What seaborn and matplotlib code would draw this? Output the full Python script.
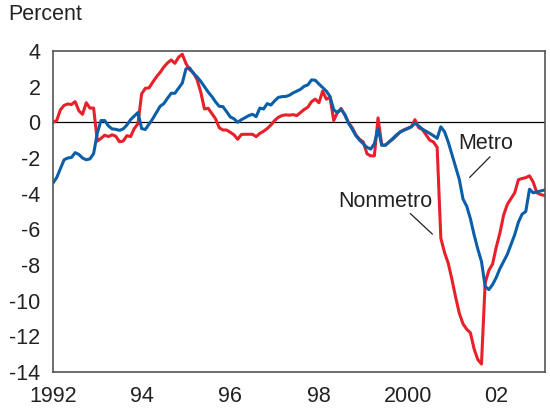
import numpy as np
import pandas as pd
import matplotlib
matplotlib.use("Agg")
import matplotlib.pyplot as plt
import seaborn as sns

# Monthly series, Jan 1992 - Feb 2003 (percent)
months = pd.date_range("1992-01-01", periods=134, freq="MS")

nonmetro = [
    0.0, 0.1, 0.7, 0.95, 1.03, 1.0, 1.16, 0.65, 0.45, 1.1, 0.8, 0.8,
    -1.05, -0.9, -0.72, -0.8, -0.7, -0.78, -1.09, -1.05, -0.75, -0.8, -0.35, -0.08,
    1.6, 1.91, 1.93, 2.25, 2.55, 2.8, 3.1, 3.33, 3.5, 3.31, 3.65, 3.82,
    3.3, 2.95, 2.78, 2.4, 1.7, 0.75, 0.79, 0.5, 0.2, -0.3, -0.43, -0.43,
    -0.56, -0.7, -0.95, -0.68, -0.67, -0.67, -0.67, -0.8, -0.62, -0.5, -0.35, -0.15,
    0.1, 0.28, 0.38, 0.42, 0.4, 0.43, 0.38, 0.55, 0.72, 0.85, 1.16, 1.3,
    1.1, 1.75, 1.3, 1.4, 0.1, 0.55, 0.78, 0.4, 0.0, -0.3, -0.7, -0.95,
    -1.1, -1.76, -1.88, -1.88, 0.25, -1.28, -1.28, -1.1, -0.95, -0.75, -0.53, -0.42,
    -0.33, -0.25, 0.15, -0.3, -0.4, -0.7, -1.0, -1.1, -1.4, -6.5, -7.3, -7.9,
    -8.8, -9.8, -10.7, -11.3, -11.6, -11.8, -12.7, -13.3, -13.55, -9.0, -8.3, -7.95,
    -7.0, -6.2, -5.2, -4.6, -4.27, -3.95, -3.22, -3.15, -3.1, -3.0, -3.35, -3.95,
    -4.05, -4.1,
]

metro = [
    -3.4, -3.1, -2.6, -2.1, -2.0, -1.97, -1.7, -1.8, -2.0, -2.1, -2.05, -1.75,
    -0.6, 0.1, 0.1, -0.2, -0.37, -0.39, -0.45, -0.37, -0.15, 0.15, 0.35, 0.55,
    -0.35, -0.4, -0.1, 0.2, 0.55, 0.9, 1.05, 1.35, 1.63, 1.63, 1.91, 2.2,
    3.0, 3.05, 2.75, 2.55, 2.3, 2.0, 1.7, 1.45, 1.15, 0.9, 0.88, 0.6,
    0.3, 0.2, 0.0, 0.15, 0.26, 0.38, 0.45, 0.32, 0.8, 0.75, 1.05, 0.97,
    1.2, 1.4, 1.44, 1.45, 1.52, 1.65, 1.75, 1.85, 2.02, 2.1, 2.38, 2.36,
    2.15, 1.95, 1.75, 1.45, 0.7, 0.55, 0.72, 0.45, -0.05, -0.38, -0.75, -1.0,
    -1.2, -1.4, -1.5, -1.2, -0.35, -1.28, -1.28, -1.1, -0.9, -0.7, -0.55, -0.44,
    -0.36, -0.25, -0.05, -0.2, -0.38, -0.5, -0.62, -0.75, -0.9, -0.25, -0.53, -1.1,
    -1.8, -2.5, -3.2, -4.3, -4.7, -5.4, -6.3, -7.1, -7.8, -9.2, -9.38, -9.1,
    -8.7, -8.2, -7.8, -7.4, -6.85, -6.3, -5.6, -5.15, -5.0, -3.75, -3.95, -3.9,
    -3.85, -3.8,
]

xtick_pos = [1992, 1994, 1996, 1998, 2000, 2002]
xtick_labels = ["1992", "94", "96", "98", "2000", "02"]
ytick_pos = [4, 2, 0, -2, -4, -6, -8, -10, -12, -14]

df = pd.DataFrame({
    "date": list(months) * 2,
    "value": nonmetro + metro,
    "series": ["Nonmetro"] * len(nonmetro) + ["Metro"] * len(metro),
})
df["year"] = df["date"].dt.year + (df["date"].dt.month - 1) / 12

sns.set_style("white")
plt.rcParams["font.family"] = ["Liberation Sans", "DejaVu Sans"]

fig = plt.figure(figsize=(5.5, 4.08), dpi=100)
ax = fig.add_axes([53 / 550, 1 - 372 / 408, 492 / 550, 321 / 408])

ax.axhline(0, color="black", lw=0.9, zorder=1)
sns.lineplot(data=df, x="year", y="value", hue="series",
             hue_order=["Nonmetro", "Metro"],
             palette={"Nonmetro": "#e8202a", "Metro": "#0a5fa8"},
             lw=2.2, legend=False, ax=ax, zorder=2)

ax.set_xlim(1992, 2003.1)
ax.set_ylim(-14, 4)
ax.set_xticks(xtick_pos)
ax.set_xticklabels(xtick_labels)
ax.set_yticks(ytick_pos)
ax.set_yticklabels([str(v) for v in ytick_pos])
ax.tick_params(length=0, labelsize=15.5, colors="#222222")
ax.tick_params(axis="x", pad=10)
ax.tick_params(axis="y", pad=9)
ax.set_xlabel("")
ax.set_ylabel("")
for s in ax.spines.values():
    s.set_color("#555555")
    s.set_linewidth(1.2)

fig.text(8 / 550, 1 - 15 / 408, "Percent", fontsize=15.5, color="#222222",
         va="center", ha="left")

# labels with leader lines
ax.text(2001.76, -1.16, "Metro", fontsize=15.5, color="#222222",
        ha="center", va="center")
ax.plot([2001.86, 2001.40], [-1.93, -3.09], color="#222222", lw=0.9)
ax.text(2000.55, -4.46, "Nonmetro", fontsize=15.5, color="#222222",
        ha="right", va="center")
ax.plot([2000.06, 2000.56], [-5.11, -6.27], color="#222222", lw=0.9)

fig.savefig("out.png", dpi=100)
